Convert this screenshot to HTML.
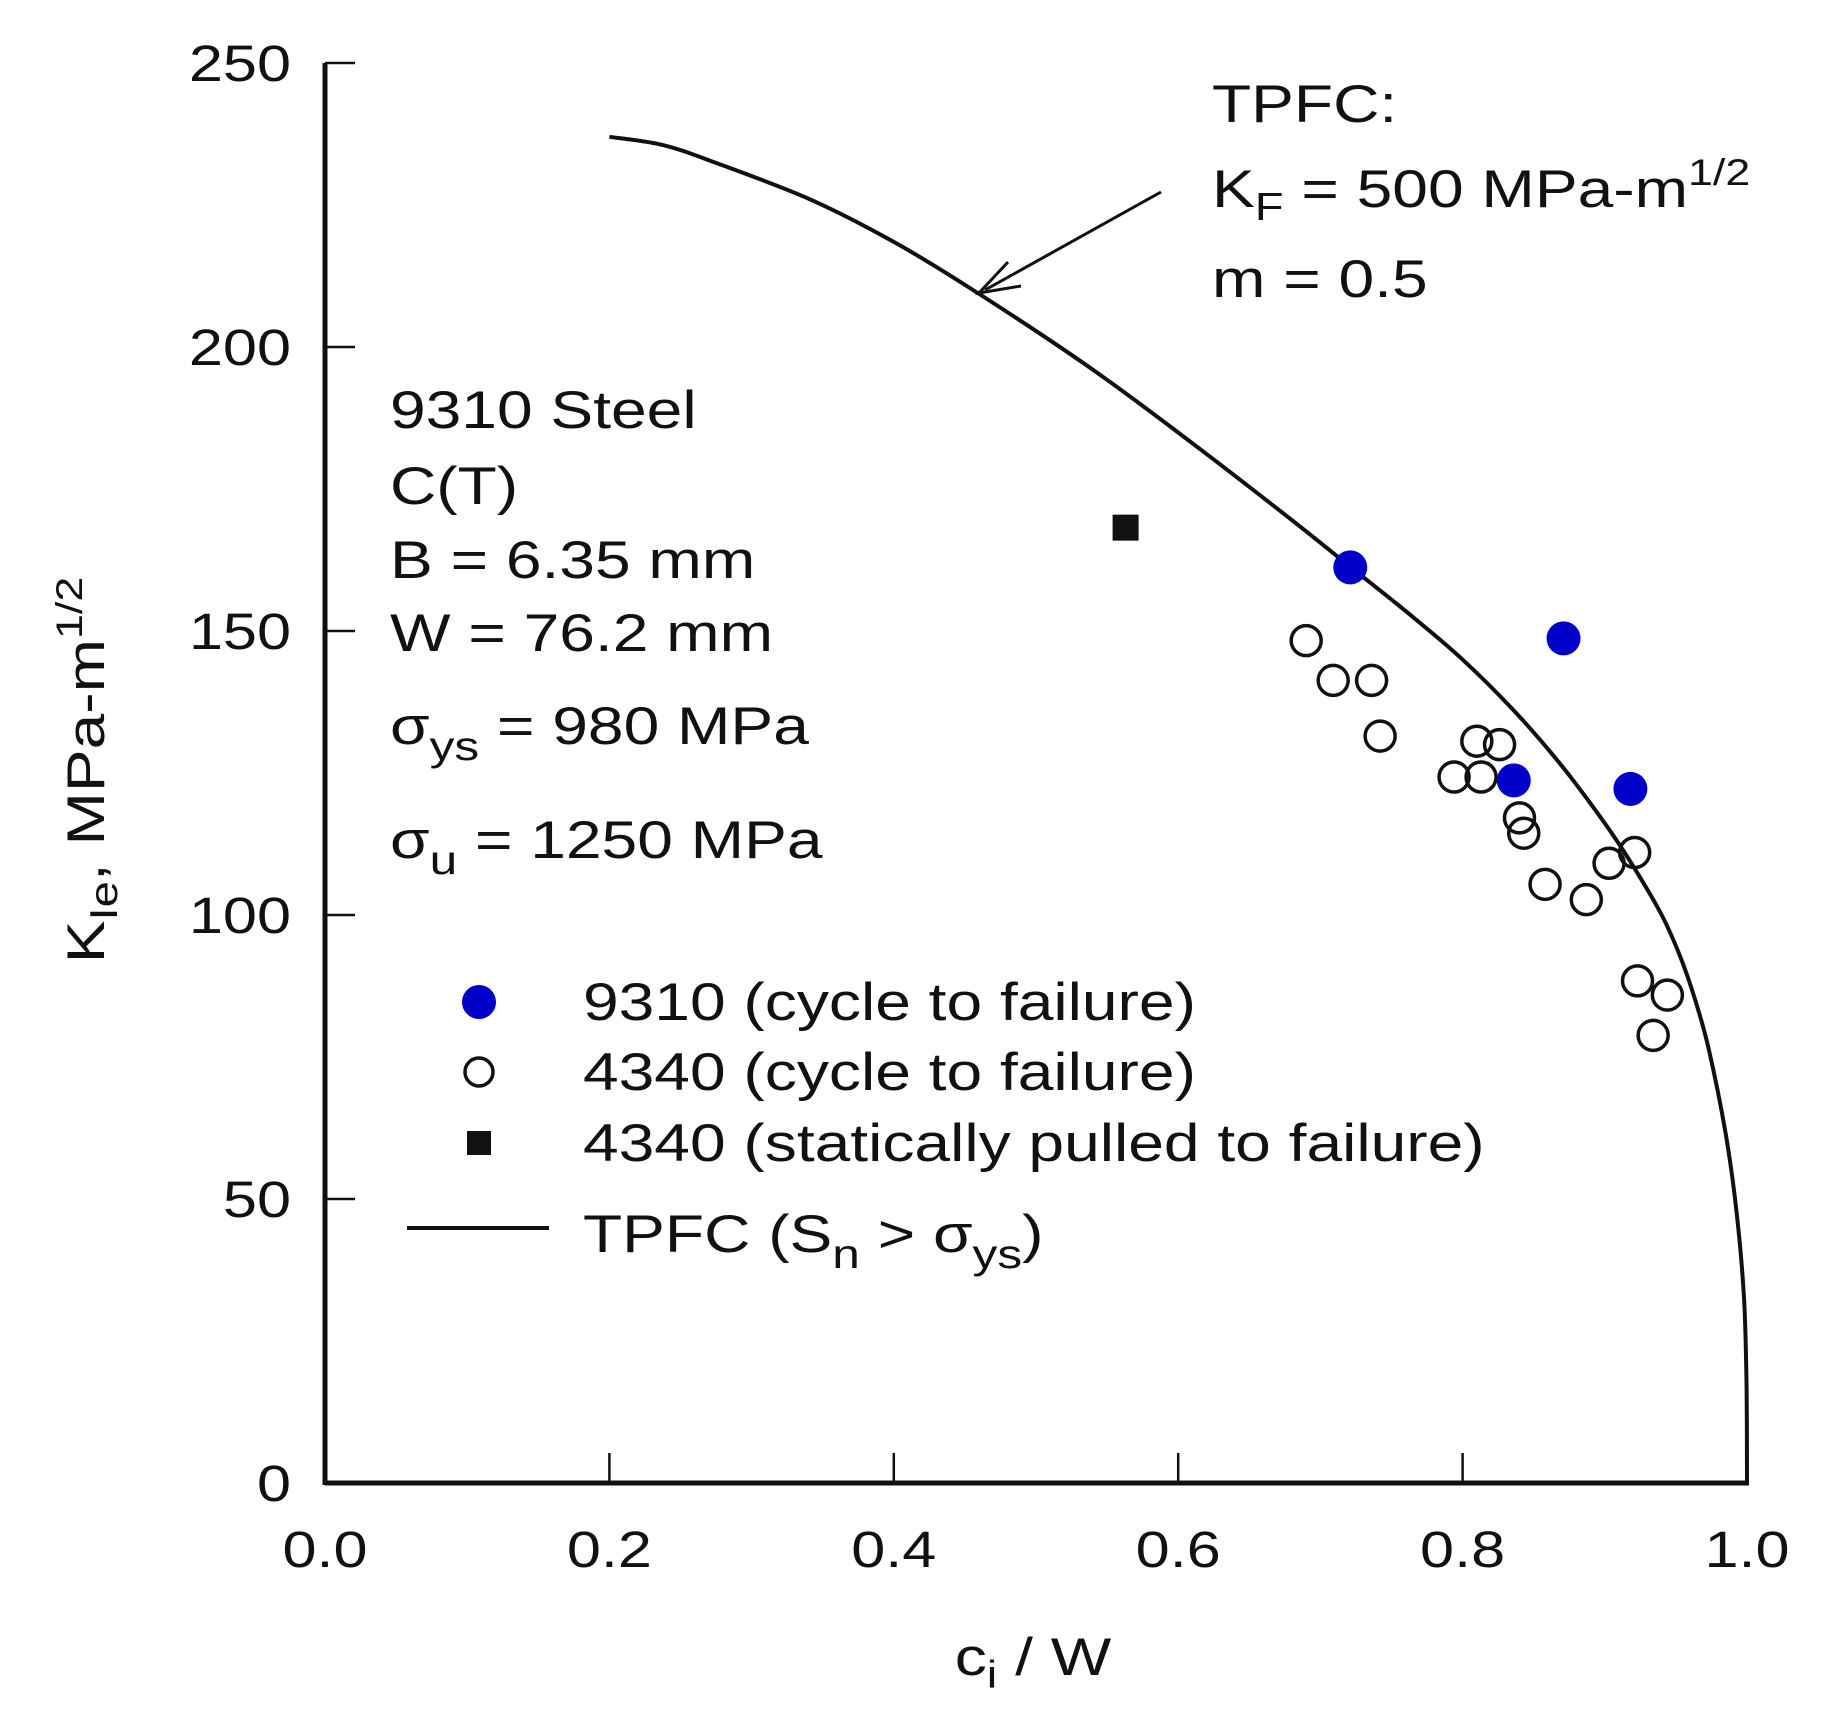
<!DOCTYPE html>
<html><head><meta charset="utf-8"><style>
html,body{margin:0;padding:0;background:#fff;}
svg{display:block;font-family:"Liberation Sans",Arial,sans-serif;}
</style></head><body>
<svg id="chart" width="1824" height="1728" viewBox="0 0 1824 1728">
<g id="axes"></g>
<g id="curve"></g>
<g id="marks"></g>
<g font-size="53" fill="#111">
 <text transform="translate(1212,122) scale(1.21,1)">TPFC:</text>
 <text transform="translate(1212,207) scale(1.21,1)">K<tspan font-size="39" dy="13">F</tspan><tspan dy="-13"> = 500 MPa-m</tspan><tspan font-size="37" dy="-22">1/2</tspan></text>
 <text transform="translate(1212,297) scale(1.21,1)">m = 0.5</text>
 <line x1="1161" y1="192" x2="985" y2="290" stroke="#111" stroke-width="3"/>
 <polyline points="1008,262 979,293 1021,286" fill="none" stroke="#111" stroke-width="3"/>
</g>
<g font-size="53" fill="#111">
 <text transform="translate(390,428) scale(1.21,1)">9310 Steel</text>
 <text transform="translate(390,504) scale(1.21,1)">C(T)</text>
 <text transform="translate(390,578) scale(1.21,1)">B = 6.35 mm</text>
 <text transform="translate(390,651) scale(1.21,1)">W = 76.2 mm</text>
 <text transform="translate(390,744) scale(1.21,1)">σ<tspan font-size="41" dy="16">ys</tspan><tspan dy="-16"> = 980 MPa</tspan></text>
 <text transform="translate(390,858) scale(1.21,1)">σ<tspan font-size="41" dy="16">u</tspan><tspan dy="-16"> = 1250 MPa</tspan></text>
</g>
<g font-size="53" fill="#111">
 <circle cx="479" cy="1002" r="17" fill="#0000c8"/>
 <text transform="translate(583,1020) scale(1.21,1)">9310 (cycle to failure)</text>
 <circle cx="479" cy="1072" r="14" fill="none" stroke="#111" stroke-width="3.5"/>
 <text transform="translate(583,1090) scale(1.21,1)">4340 (cycle to failure)</text>
 <rect x="467" y="1131" width="24" height="24" fill="#111"/>
 <text transform="translate(583,1161) scale(1.21,1)">4340 (statically pulled to failure)</text>
 <line x1="407" y1="1228" x2="549" y2="1228" stroke="#111" stroke-width="4"/>
 <text transform="translate(583,1252) scale(1.21,1)">TPFC (S<tspan font-size="41" dy="16">n</tspan><tspan dy="-16"> &gt; σ</tspan><tspan font-size="41" dy="16">ys</tspan><tspan dy="-16">)</tspan></text>
</g>
<text transform="translate(1033,1675) scale(1.21,1)" text-anchor="middle" font-size="53" fill="#111">c<tspan font-size="39" dy="13">i</tspan><tspan dy="-13"> / W</tspan></text>
<text transform="translate(104,770) rotate(-90) scale(1.21,1)" text-anchor="middle" font-size="53" fill="#111">K<tspan font-size="39" dy="13">Ie</tspan><tspan dy="-13">, MPa-m</tspan><tspan font-size="37" dy="-22">1/2</tspan></text>
</svg>
<script>
const xTicks = [0, 0.2, 0.4, 0.6, 0.8, 1.0];
const xTickLabels = ["0.0","0.2","0.4","0.6","0.8","1.0"];
const yTicks = [0, 50, 100, 150, 200, 250];
const yTickLabels = ["0","50","100","150","200","250"];
const blueX = [0.721, 0.871, 0.836, 0.918];
const blueY = [161.2, 148.7, 123.7, 122.2];
const openX = [0.690,0.709,0.736,0.742,0.810,0.826,0.794,0.813,0.840,0.843,0.858,0.887,0.903,0.921,0.923,0.944,0.934];
const openY = [148.3,141.3,141.3,131.5,130.6,130.0,124.3,124.3,117.1,114.4,105.4,102.7,109.1,111.0,88.4,85.9,78.8];
const squareX = [0.563];
const squareY = [168.2];
const curveX = [0.2,0.237,0.274,0.341,0.4,0.459,0.54,0.616,0.68,0.7215,0.76,0.799,0.836,0.869,0.899,0.919,0.94,0.953,0.963,0.973,0.985,0.993,0.998,0.9997,1.0];
const curveY = [237,235.6,232.5,226,218.5,209.5,196,181.9,169.5,161.2,153.5,145.2,136,126.5,116.5,109,100,92.7,85.5,76.5,61.5,47,32,16.7,0];

const NS = "http://www.w3.org/2000/svg";
const X0 = 325, X1 = 1747, Y0 = 1483, Y1 = 63;
function sx(v){ return X0 + v*(X1-X0); }
function sy(v){ return Y0 - v/250*(Y0-Y1); }
function mk(tag, attrs, parent){ const e=document.createElementNS(NS,tag); for(const k in attrs) e.setAttribute(k,attrs[k]); parent.appendChild(e); return e; }

const axes = document.getElementById('axes');
let e = mk('line',{x1:X0,y1:Y0,x2:X1+2,y2:Y0,stroke:'#111','stroke-width':5},axes);


e = mk('line',{x1:X0,y1:Y0+2,x2:X0,y2:Y1,stroke:'#111','stroke-width':5},axes);


xTicks.forEach((t,i)=>{
  if(i>0 && i<xTicks.length-1){
    const l = mk('line',{x1:sx(t),y1:Y0,x2:sx(t),y2:Y0-30,stroke:'#111','stroke-width':2.5},axes);
    
    
  }
  const tx = mk('text',{transform:'translate('+sx(t)+',1567) scale(1.2,1)','text-anchor':'middle','font-size':51,fill:'#111'},axes);
  tx.textContent = xTickLabels[i];
  
  
});
yTicks.forEach((t,i)=>{
  if(i>0){
    const l = mk('line',{x1:X0,y1:sy(t),x2:X0+30,y2:sy(t),stroke:'#111','stroke-width':2.5},axes);
    
    
  }
  const tx = mk('text',{transform:'translate(291,'+(sy(t)+18)+') scale(1.2,1)','text-anchor':'end','font-size':51,fill:'#111'},axes);
  tx.textContent = yTickLabels[i];
  
  
});

const cg = document.getElementById('curve');
const pts = curveX.map((x,i)=>[sx(x), sy(curveY[i])]);
let d = 'M' + pts[0][0].toFixed(1) + ',' + pts[0][1].toFixed(1);
for(let i=0;i<pts.length-1;i++){
  const p0 = pts[Math.max(0,i-1)], p1 = pts[i], p2 = pts[i+1], p3 = pts[Math.min(pts.length-1,i+2)];
  const c1 = [p1[0]+(p2[0]-p0[0])/6, p1[1]+(p2[1]-p0[1])/6];
  const c2 = [p2[0]-(p3[0]-p1[0])/6, p2[1]-(p3[1]-p1[1])/6];
  d += 'C'+c1[0].toFixed(1)+','+c1[1].toFixed(1)+' '+c2[0].toFixed(1)+','+c2[1].toFixed(1)+' '+p2[0].toFixed(1)+','+p2[1].toFixed(1);
}
const path = mk('path',{d:d,fill:'none',stroke:'#111','stroke-width':4,'stroke-linejoin':'round'},cg);



const mg = document.getElementById('marks');
openX.forEach((x,i)=>{
  const c = mk('circle',{cx:sx(x),cy:sy(openY[i]),r:15,fill:'none',stroke:'#111','stroke-width':3.5},mg);
  
  
});
blueX.forEach((x,i)=>{
  const c = mk('circle',{cx:sx(x),cy:sy(blueY[i]),r:17,fill:'#0000c8'},mg);
  
  
});
squareX.forEach((x,i)=>{
  const r = mk('rect',{x:sx(x)-13,y:sy(squareY[i])-13,width:26,height:26,fill:'#111'},mg);
  
  
});
</script>
</body></html>
